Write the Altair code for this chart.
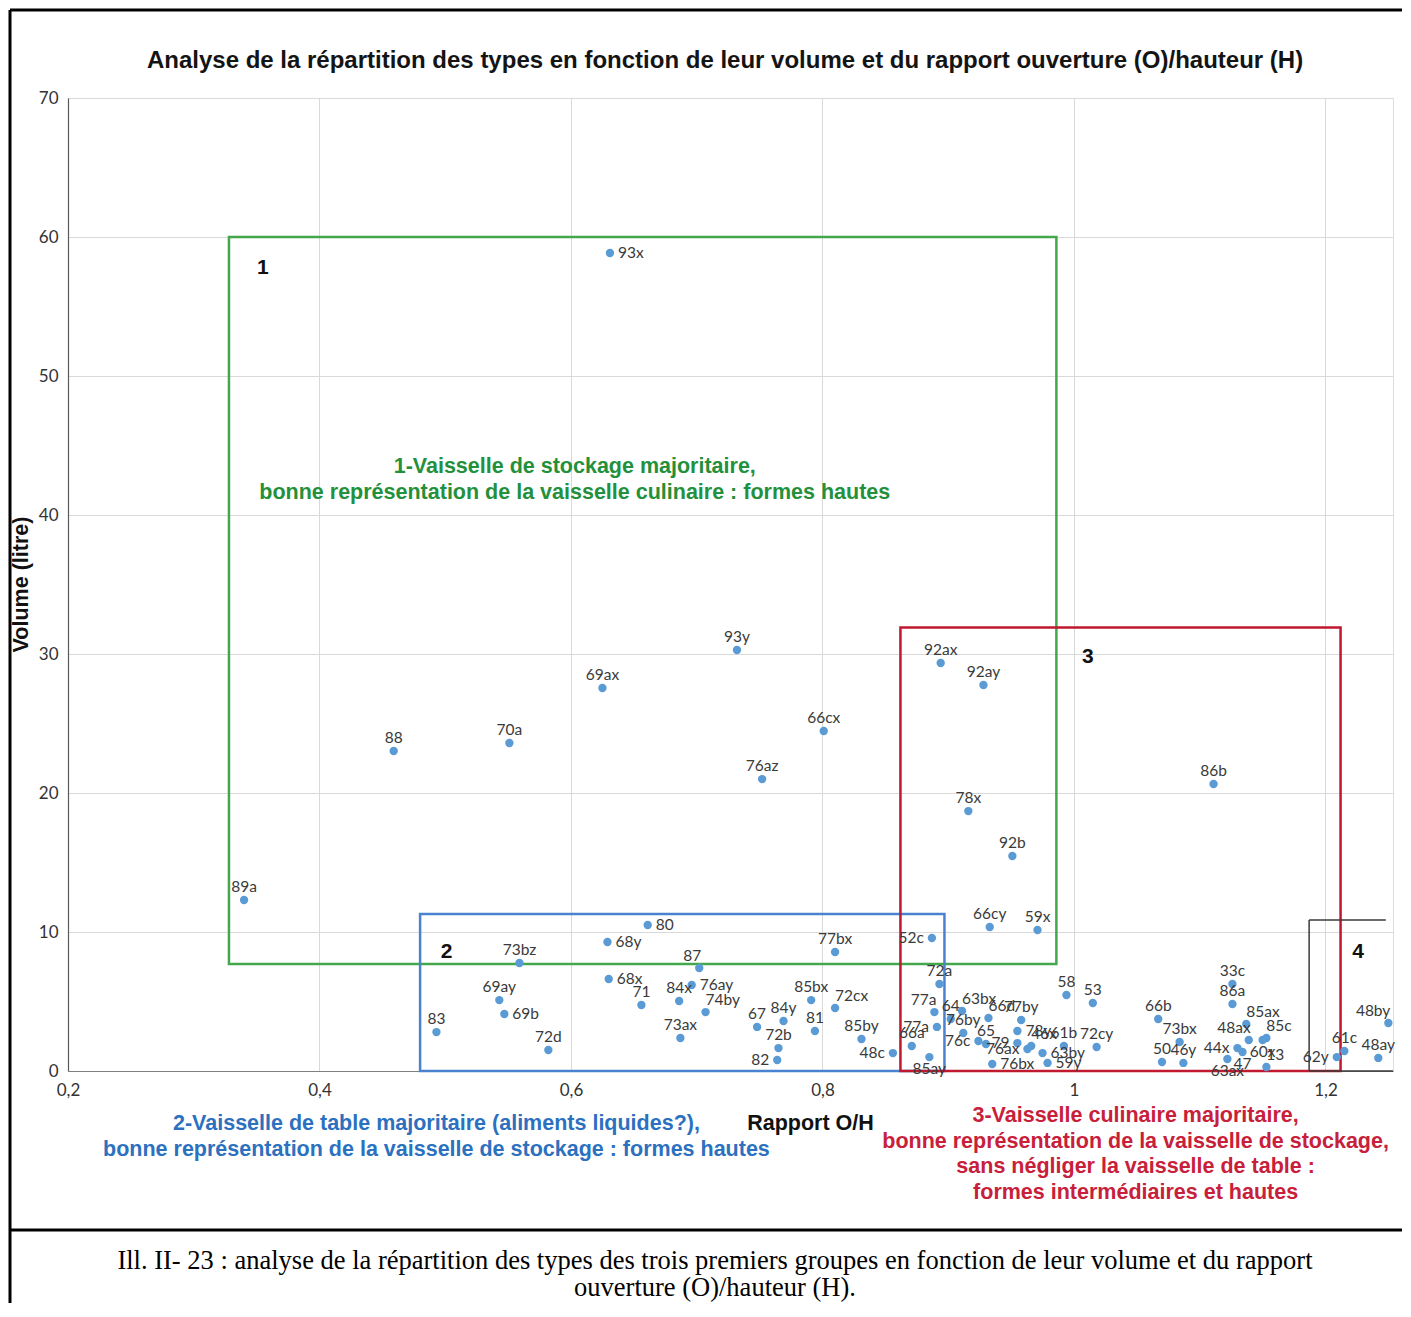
import altair as alt
import pandas as pd

# ---------------- data ----------------
types = ["93x", "93y", "69ax", "88", "70a", "66cx", "76az", "89a", "92ax", "92ay",
         "78x", "92b", "66cy", "59x", "86b", "80", "68y", "73bz", "77bx", "52c",
         "72a", "68x", "87", "71", "84x", "76ay", "74by", "73ax", "69ay", "69b",
         "83", "72d", "67", "84y", "72b", "82", "85bx", "72cx", "81", "85by",
         "48c", "77a", "64", "63bx", "77a", "66a", "85ay", "76by", "66d", "76c",
         "65", "77by", "78y", "79", "46x", "76ax", "63by", "59y", "76bx", "61b",
         "58", "53", "72cy", "66b", "73bx", "50", "46y", "33c", "86a", "85ax",
         "48ax", "44x", "47", "63ax", "85c", "60x", "13", "62y", "61c", "48ay",
         "48by"]
rapport_oh = [0.631, 0.732, 0.625, 0.459, 0.551, 0.801, 0.752, 0.340, 0.894, 0.928,
              0.916, 0.951, 0.933, 0.971, 1.111, 0.661, 0.629, 0.559, 0.810, 0.887,
              0.893, 0.630, 0.702, 0.656, 0.686, 0.696, 0.707, 0.687, 0.543, 0.547,
              0.493, 0.582, 0.748, 0.769, 0.765, 0.764, 0.791, 0.810, 0.794, 0.831,
              0.856, 0.889, 0.902, 0.911, 0.891, 0.871, 0.885, 0.912, 0.932, 0.924,
              0.930, 0.958, 0.955, 0.955, 0.966, 0.963, 0.975, 0.979, 0.935, 0.992,
              0.994, 1.015, 1.018, 1.067, 1.084, 1.070, 1.087, 1.126, 1.126, 1.137,
              1.139, 1.130, 1.134, 1.122, 1.153, 1.150, 1.153, 1.209, 1.215, 1.242,
              1.250]
volume_l = [58.85, 30.29, 27.55, 23.02, 23.6, 24.46, 21.0, 12.3, 29.35, 27.77,
            18.7, 15.47, 10.36, 10.14, 20.65, 10.5, 9.28, 7.77, 8.56, 9.57,
            6.26, 6.62, 7.41, 4.75, 5.04, 6.19, 4.24, 2.37, 5.1, 4.1,
            2.8, 1.51, 3.17, 3.6, 1.65, 0.79, 5.1, 4.53, 2.88, 2.3,
            1.29, 4.24, 3.74, 4.32, 3.17, 1.8, 1.0, 2.73, 3.81, 2.16,
            1.94, 3.67, 2.88, 2.01, 1.8, 1.58, 1.29, 0.58, 0.5, 1.8,
            5.47, 4.89, 1.73, 3.74, 2.09, 0.65, 0.58, 6.26, 4.82, 3.38,
            2.23, 1.65, 1.37, 0.86, 2.37, 2.23, 0.29, 1.0, 1.44, 0.94,
            3.45]
# where each data label sits around its point: a=above, r=right, l=left, b=below,
# ar=above-right, al=above-left
label_side = ["r", "a", "a", "a", "a", "a", "a", "a", "a", "a",
              "a", "a", "a", "a", "a", "r", "r", "a", "a", "l",
              "a", "r", "al", "a", "a", "r", "ar", "a", "a", "r",
              "a", "a", "a", "a", "a", "l", "a", "ar", "a", "a",
              "l", "al", "a", "ar", "l", "a", "b", "a", "ar", "l",
              "a", "a", "r", "l", "ar", "l", "r", "r", "r", "a",
              "a", "a", "a", "a", "a", "a", "a", "a", "a", "ar",
              "al", "l", "b", "b", "ar", "b", "ar", "l", "a", "a",
              "al"]

# group boxes
box_id = ["1", "2", "3"]
box_x1 = [0.328, 0.480, 0.862]
box_x2 = [0.986, 0.897, 1.212]
box_y1 = [7.7, 0.0, 0.0]
box_y2 = [60.0, 11.3, 31.9]
# box 4 (open black frame)
box4_x = [1.187, 1.248]
box4_y = [0.0, 10.86]

num_text = ["1", "2", "3", "4"]
num_x = [0.355, 0.501, 1.011, 1.226]
num_y = [57.8, 8.56, 29.8, 8.56]

annot_text = ["1-Vaisselle de stockage majoritaire,",
              "bonne représentation de la vaisselle culinaire : formes hautes",
              "2-Vaisselle de table majoritaire (aliments liquides?),",
              "bonne représentation de la vaisselle de stockage : formes hautes",
              "3-Vaisselle culinaire majoritaire,",
              "bonne représentation de la vaisselle de stockage,",
              "sans négliger la vaisselle de table :",
              "formes intermédiaires et hautes"]
annot_group = ["1", "1", "2", "2", "3", "3", "3", "3"]
annot_x = [0.603, 0.603, 0.493, 0.493, 1.049, 1.049, 1.049, 1.049]
annot_y = [43.45, 41.58, -3.81, -5.68, -3.24, -5.11, -6.91, -8.78]

title_text = ["Analyse de la répartition des types en fonction de leur volume et du rapport ouverture (O)/hauteur (H)"]
title_x = [0.7225]
title_y = [72.66]

caption_text = ["Ill. II- 23 : analyse de la répartition des types des trois premiers groupes en fonction de leur volume et du rapport",
                "ouverture (O)/hauteur (H)."]
caption_x = [0.7145, 0.7145]
caption_y = [-14.24, -16.19]   # baselines

x_ticks = [0.2, 0.4, 0.6, 0.8, 1.0, 1.2]
y_ticks = [0, 10, 20, 30, 40, 50, 60, 70]

# ---------------- tables ----------------
pts = pd.DataFrame({"type": types, "rapport": rapport_oh, "volume": volume_l, "side": label_side})
boxes = pd.DataFrame({"g": box_id, "x1": box_x1, "x2": box_x2, "y1": box_y1, "y2": box_y2})
box4_top = pd.DataFrame({"x1": [box4_x[0]], "x2": [box4_x[1]], "y": [box4_y[1]]})
box4_left = pd.DataFrame({"x": [box4_x[0]], "y1": [box4_y[0]], "y2": [box4_y[1]]})
box4_bottom = pd.DataFrame({"x1": [box4_x[0]], "x2": [1.2537], "y": [box4_y[0]]})
nums = pd.DataFrame({"t": num_text, "x": num_x, "y": num_y})
annots = pd.DataFrame({"t": annot_text, "g": annot_group, "x": annot_x, "y": annot_y})
titles = pd.DataFrame({"t": title_text, "x": title_x, "y": title_y})
captions = pd.DataFrame({"t": caption_text, "x": caption_x, "y": caption_y})
one = pd.DataFrame({"k": [0]})

# ---------------- scales / axes ----------------
x_scale = alt.Scale(domain=[0.2, 1.2537], nice=False, zero=False)
y_scale = alt.Scale(domain=[0, 70], nice=False, zero=False)
x_axis = alt.Axis(values=x_ticks, grid=True, gridColor="#d9d9d9", gridWidth=1,
                  ticks=False, domainColor="#808080", domainWidth=1.2, labelFlush=False,
                  labelExpr="replace(toString(round(datum.value*10)/10), '.', ',')",
                  labelFont="Lato", labelFontSize=17, labelColor="#333333", labelPadding=11,
                  title="Rapport O/H", titleFont="Liberation Sans", titleFontSize=21.5,
                  titleFontWeight="bold", titleColor="#111111", titleX=742, titleY=52,
                  titleAlign="center", titleBaseline="middle")
y_axis = alt.Axis(values=y_ticks, grid=True, gridColor="#d9d9d9", gridWidth=1,
                  ticks=False, domainColor="#595959", domainWidth=1.2, labelFlush=False,
                  labelFont="Lato", labelFontSize=17, labelColor="#333333", labelPadding=10,
                  title="Volume (litre)", titleFont="Liberation Sans", titleFontSize=21.5,
                  titleFontWeight="bold", titleColor="#111111", titleAngle=270,
                  titleX=-47, titleY=486, titleAlign="center", titleBaseline="middle")


def X(f):
    return alt.X(f, type="quantitative", scale=x_scale, axis=x_axis)


def Y(f):
    return alt.Y(f, type="quantitative", scale=y_scale, axis=y_axis)


box_color = alt.Color("g:N", scale=alt.Scale(domain=["1", "2", "3"],
                                              range=["#43a84b", "#4b82d0", "#c0182e"]), legend=None)
text_color = alt.Color("g:N", scale=alt.Scale(domain=["1", "2", "3"],
                                               range=["#23903b", "#2c70c0", "#c8203a"]), legend=None)

# ---------------- layers ----------------
box_layer = alt.Chart(boxes).mark_rect(fillOpacity=0, strokeWidth=2.5).encode(
    x=X("x1"), x2="x2", y=Y("y1"), y2="y2", stroke=box_color)

b4a = alt.Chart(box4_top).mark_rule(color="#3a3a3a", strokeWidth=1.5).encode(x=X("x1"), x2="x2", y=Y("y"))
b4b = alt.Chart(box4_left).mark_rule(color="#3a3a3a", strokeWidth=1.5).encode(x=X("x"), y=Y("y1"), y2="y2")
b4c = alt.Chart(box4_bottom).mark_rule(color="#3a3a3a", strokeWidth=1.5).encode(x=X("x1"), x2="x2", y=Y("y"))

points = alt.Chart(pts).mark_circle(size=70, color="#5b9bd5", opacity=1).encode(
    x=X("rapport"), y=Y("volume"), tooltip=["type", "rapport", "volume"])

side_style = {
    "a": dict(align="center", baseline="bottom", dx=0, dy=-5),
    "r": dict(align="left", baseline="middle", dx=8, dy=0),
    "l": dict(align="right", baseline="middle", dx=-8, dy=0),
    "b": dict(align="center", baseline="top", dx=0, dy=5),
    "ar": dict(align="left", baseline="bottom", dx=0, dy=-4),
    "al": dict(align="right", baseline="bottom", dx=2, dy=-4),
}
label_layers = []
for side, st in side_style.items():
    label_layers.append(
        alt.Chart(pts).transform_filter(alt.datum.side == side).mark_text(
            font="Lato", fontSize=15.5, color="#3a3a3a", **st).encode(
            x=X("rapport"), y=Y("volume"), text="type:N"))

num_layer = alt.Chart(nums).mark_text(font="Liberation Sans", fontSize=21, fontWeight="bold",
                                      color="#111111", align="center", baseline="middle").encode(
    x=X("x"), y=Y("y"), text="t:N")

annot_layer = alt.Chart(annots).mark_text(font="Liberation Sans", fontSize=21.5, fontWeight="bold",
                                          align="center", baseline="middle").encode(
    x=X("x"), y=Y("y"), text="t:N", color=text_color)

title_layer = alt.Chart(titles).mark_text(font="Liberation Sans", fontSize=24, fontWeight="bold",
                                          color="#141414", align="center", baseline="middle").encode(
    x=X("x"), y=Y("y"), text="t:N")

caption_layer = alt.Chart(captions).mark_text(font="Liberation Serif", fontSize=26.5,
                                              color="#000000", align="center", baseline="alphabetic").encode(
    x=X("x"), y=Y("y"), text="t:N")

# page frame (decoration), pixel offsets from the plot's top-left corner
frame_top = alt.Chart(one).mark_rule(color="#000000", strokeWidth=3).encode(
    x=alt.value(-58), x2=alt.value(1345), y=alt.value(-88))
frame_left = alt.Chart(one).mark_rule(color="#000000", strokeWidth=3).encode(
    x=alt.value(-58), y=alt.value(-88), y2=alt.value(1230))
frame_sep = alt.Chart(one).mark_rule(color="#000000", strokeWidth=3).encode(
    x=alt.value(-58), x2=alt.value(1345), y=alt.value(1132))

chart = alt.layer(
    box_layer, b4a, b4b, b4c, points, *label_layers,
    num_layer, annot_layer, title_layer, caption_layer, frame_top, frame_left, frame_sep
).properties(
    width=1325, height=973,
    autosize=alt.AutoSizeParams(type="none"),
    padding={"left": 60, "top": 90, "right": 9, "bottom": 232},
).configure_view(strokeWidth=0).configure(background="white")

chart.save("out.html", embed_options={"renderer": "svg", "actions": False})
